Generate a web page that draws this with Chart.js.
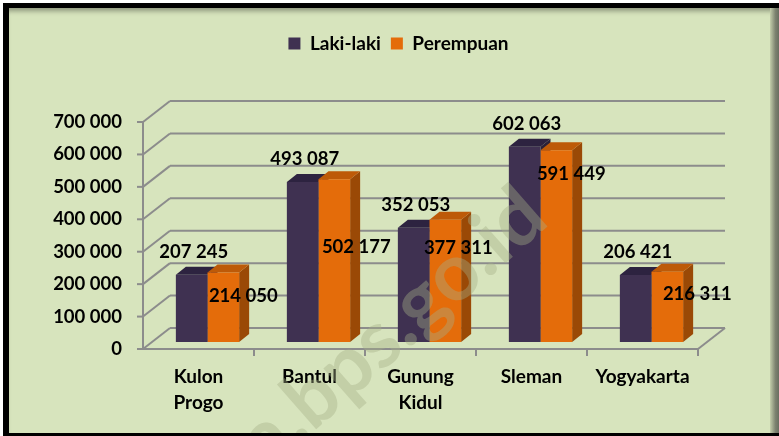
<!DOCTYPE html>
<html>
<head>
<meta charset="utf-8">
<title>Penduduk menurut Kabupaten/Kota dan Jenis Kelamin</title>
<script src="https://cdn.jsdelivr.net/npm/chart.js@4/dist/chart.umd.min.js"></script>
<style>
  body { margin: 0; background: #fff; }
  #frame { position: relative; width: 779px; height: 436px; overflow: hidden; background: #fff; }
  #panel {
    position: absolute; left: 3px; top: 3px; width: 776px; height: 433px;
    box-sizing: border-box; background: #d7e4bd;
    border-top: 5px solid #000; border-left: 6px solid #000; border-bottom: 3px solid #000;
    box-shadow: inset 0 6px 5px -3px rgba(0, 0, 0, .35);
  }
  #edge {
    position: absolute; left: 770px; top: 8px; width: 9px; height: 425px;
    background: linear-gradient(to right, #c3cdaa, #7d8270 60%, #6a6e60);
  }
  canvas { position: absolute; left: 0; top: 0; }
</style>
</head>
<body>
<div id="frame">
  <div id="panel"></div>
  <div id="edge"></div>
  <canvas id="chart" width="779" height="436"></canvas>
</div>
<script>
'use strict';

// kabupaten/kota and population by sex
const regions = [['Kulon', 'Progo'], 'Bantul', ['Gunung', 'Kidul'], 'Sleman', 'Yogyakarta']
const male = [207245, 493087, 352053, 602063, 206421]
const female = [214050, 502177, 377311, 591449, 216311]
const yMax = 700000
const yStep = 100000

// colours
const purple = '#3f3151'
const orange = '#e46c0a'
const gridColor = '#8c8c8c'

// 3D look: bar depth and wall offsets relative to the bar front plane
const barDepth = { dx: 10, dy: -8 }
const wallFront = { dx: -9, dy: 7 }
const wallBack = { dx: 18, dy: -14 }

// hand placed value labels for the orange bars [dx, dy]
const femaleNudge = [[20, 23], [22, 68], [13, 28], [15, 24], [30, 22]]

const fmt = n => String(n).replace(/\B(?=(\d{3})+(?!\d))/g, ' ')

const shade = [
  { top: '#2d2340', side: '#2a2138' },
  { top: '#bd5a08', side: '#9a4906' }
]

/**
 * draws walls, floor, axes lines and the top/side faces of the bars
 */
const depthPlugin = {
  id: 'depth',
  beforeDatasetsDraw(chart) {
    const ctx = chart.ctx
    const { left, right, bottom } = chart.chartArea
    const y = chart.scales.y
    ctx.save()
    ctx.strokeStyle = gridColor
    ctx.lineWidth = 2
    const line = (x1, y1, x2, y2) => {
      ctx.beginPath(); ctx.moveTo(x1, y1); ctx.lineTo(x2, y2); ctx.stroke()
    }
    y.ticks.forEach(t => {
      const py = y.getPixelForValue(t.value)
      line(left + wallBack.dx, py + wallBack.dy, right + wallBack.dx, py + wallBack.dy)
      line(left + wallFront.dx, py + wallFront.dy, left + wallBack.dx, py + wallBack.dy)
      line(left + wallFront.dx - 6, py + wallFront.dy, left + wallFront.dx, py + wallFront.dy)
    })
    const fx = left + wallFront.dx
    const fy = bottom + wallFront.dy
    line(fx, y.getPixelForValue(yMax) + wallFront.dy, fx, fy)
    line(fx, fy, right + wallFront.dx, fy)
    line(right + wallFront.dx, fy, right + wallBack.dx, bottom + wallBack.dy)
    const step = (right - left) / regions.length
    for (let i = 1; i <= regions.length; i++) {
      line(fx + step * i, fy, fx + step * i, fy + 7)
    }
    ctx.restore()

    // top and side faces of each bar
    ctx.save()
    regions.forEach((r, i) => {
      chart.data.datasets.forEach((ds, d) => {
        const bar = chart.getDatasetMeta(d).data[i]
        const { x: bx, y: by, base, width } = bar.getProps(['x', 'y', 'base', 'width'], true)
        const l = bx - width / 2
        const rt = bx + width / 2
        ctx.fillStyle = shade[d].side
        ctx.beginPath()
        ctx.moveTo(rt, by); ctx.lineTo(rt + barDepth.dx, by + barDepth.dy)
        ctx.lineTo(rt + barDepth.dx, base + barDepth.dy); ctx.lineTo(rt, base)
        ctx.closePath(); ctx.fill()
        ctx.fillStyle = shade[d].top
        ctx.beginPath()
        ctx.moveTo(l, by); ctx.lineTo(rt, by)
        ctx.lineTo(rt + barDepth.dx, by + barDepth.dy); ctx.lineTo(l + barDepth.dx, by + barDepth.dy)
        ctx.closePath(); ctx.fill()
      })
    })
    ctx.restore()
  }
}

/**
 * watermark and the value labels
 */
const labelPlugin = {
  id: 'valueLabels',
  afterDatasetsDraw(chart) {
    const ctx = chart.ctx
    ctx.save()
    ctx.beginPath()
    ctx.rect(9, 8, 761, 425)
    ctx.clip()
    ctx.translate(534, 204)
    ctx.rotate(-0.72)
    ctx.font = 'bold 80px Lato'
    ctx.textAlign = 'right'
    ctx.textBaseline = 'middle'
    ctx.fillStyle = 'rgba(165, 175, 135, 0.4)'
    ctx.fillText('yogyakarta.bps.go.id', 0, 0)
    ctx.restore()

    ctx.save()
    ctx.font = 'bold 18.5px Lato'
    ctx.fillStyle = '#000'
    ctx.textAlign = 'center'
    ctx.textBaseline = 'middle'
    chart.getDatasetMeta(0).data.forEach((bar, i) => {
      ctx.fillText(fmt(male[i]), bar.x + 2, bar.y - 23)
    })
    chart.getDatasetMeta(1).data.forEach((bar, i) => {
      ctx.fillText(fmt(female[i]), bar.x + femaleNudge[i][0], bar.y + femaleNudge[i][1])
    })
    ctx.restore()
  }
}

// leave room between the legend and the plot
const legendGap = {
  id: 'legendGap',
  beforeInit(chart) {
    const fit = chart.legend.fit
    chart.legend.fit = function () {
      fit.bind(chart.legend)()
      this.height += 52
    }
  }
}

Chart.defaults.font.family = 'Lato'
Chart.defaults.font.weight = 'bold'
Chart.defaults.color = '#000'

new Chart(document.getElementById('chart'), {
  type: 'bar',
  data: {
    labels: regions,
    datasets: [
      { label: 'Laki-laki', data: male, backgroundColor: purple },
      { label: 'Perempuan', data: female, backgroundColor: orange }
    ]
  },
  options: {
    responsive: false,
    animation: false,
    devicePixelRatio: 1,
    layout: { padding: { top: 24, left: 48, right: 30, bottom: 0 } },
    datasets: { bar: { categoryPercentage: 0.57, barPercentage: 1, borderWidth: 0 } },
    plugins: {
      legend: {
        position: 'top',
        labels: { boxWidth: 12, boxHeight: 12, padding: 10, font: { size: 19, weight: 'bold' } }
      },
      tooltip: { enabled: false }
    },
    scales: {
      x: {
        grid: { display: false, drawTicks: false },
        border: { display: false },
        ticks: { padding: 22, labelOffset: -9, maxRotation: 0, font: { size: 19, weight: 'bold', lineHeight: 1.37 } },
        afterFit: s => { s.height = 94 }
      },
      y: {
        min: 0,
        max: yMax,
        grid: { display: false, drawTicks: false },
        border: { display: false },
        ticks: { stepSize: yStep, padding: 30, labelOffset: 7, callback: v => fmt(v), font: { size: 18.5, weight: 'bold' } },
        afterFit: s => { s.width = 104 }
      },
      // empty box on the right, keeps the legend centred over the walls
      yRight: {
        position: 'right',
        grid: { display: false, drawTicks: false },
        border: { display: false },
        ticks: { display: false },
        afterFit: s => { s.width = 42 }
      }
    }
  },
  plugins: [depthPlugin, labelPlugin, legendGap]
})
</script>
</body>
</html>
